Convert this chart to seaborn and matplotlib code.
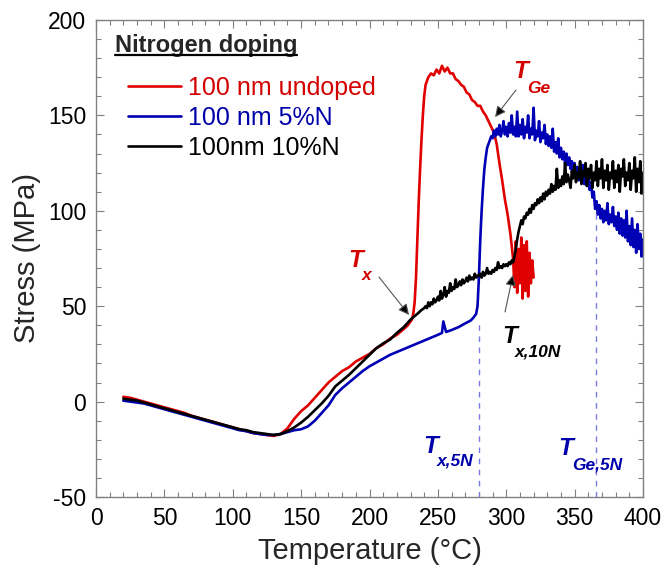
import matplotlib
matplotlib.use("Agg")
import matplotlib.pyplot as plt
import numpy as np
import pandas as pd
import seaborn as sns
from matplotlib.ticker import MultipleLocator
from matplotlib.lines import Line2D

# ---------------- data ----------------
red_T = [20,25,30,35,40,45,50,55,60,65,70,75,80,85,90,95,100,105,110,115,120,125,130,135,140,145,150,155,160,165,
         170,175,180,185,190,195,200,205,210,215,220,225,228,231,232,233,234,235,236,237,238,239,240,241,
         243,245,247,249,251,253,255,257,259,261,263,265,267,269,271,273,275,277,279,281,283,285,287,289,291,293,
         295,297,299,301,303,305,
         306,307,308,309,310,311,312,313,314,315,316,317,318,319,320]
red_S = [2.5,2,1,0,-1,-2,-3,-4,-5,-6,-7.5,-8.5,-9.5,-10.5,-11.5,-12.5,-13.5,-14.5,-15.5,-16.5,
         -17,-17.5,-18,-17,-14,-9,-5,-2,2,6,10,13,16,18,21,23,25,28,30,33,35,38,
         40,43,46,52,65,85,105,122,137,150,160,166,
         170,172,171,174,172,176,173,175,172,172,169,168,166,165,162,161,158,157,155,155,
         152,150,147,144,141,135,125,116,106,98,88,75,
         60,84,57,80,62,86,54,82,58,84,55,78,62,74,65]

black_T = [20,25,30,35,40,45,50,55,60,65,70,75,80,85,90,95,100,105,110,115,120,125,130,135,140,145,150,155,
           160,165,170,175,180,185,190,195,200,205,210,215,220,225,230,235,238] + list(range(240, 401))
black_S = [1.5,1,0.5,-0.5,-1.5,-2.5,-3.5,-4.5,-5.5,-6.5,-7.5,-8.5,-9.5,-10.5,-11.5,-12.5,-13.5,-14.5,-15,-16,
           -16.5,-17,-17.5,-17,-15.5,-13.5,-11,-8,-4.5,-1,3,8,11,14,17.5,21,24.5,28,30.5,32.5,36,39,43,46,48,
           49,50,49,52,50,52,51,54,52,53,
           55,53,58,54,56,60,55,58,57,62,
           58,60,59,64,60,61,63,61,64,62,
           63,65,63,66,64,65,64,67,65,66,
           66,67,65,68,66,67,70,67,68,67,
           69,68,70,69,73,70,71,70,72,71,
           72,71,73,72,74,73,76,80,85,89,
           92,95,93,97,96,99,98,101,99,103,
           101,104,103,106,104,107,105,109,106,110,
           108,111,109,114,110,113,111,122,112,116,
           113,118,114,125,115,119,116,112,121,117,
           124,115,120,117,126,114,121,118,125,113,
           122,117,124,112,120,116,126,113,122,117,
           127,112,121,116,124,111,120,117,126,112,
           121,115,124,110,122,118,127,113,120,116,
           125,111,121,117,128,110,122,115,126,109,
           120]

blue_T = [20,25,30,35,40,45,50,55,60,65,70,75,80,85,90,95,100,105,110,115,120,125,130,135,140,145,150,155,
          160,165,170,175,180,185,190,195,200,205,210,215,220,225,230,235,240,245,250,253,254,
          256,260,265,270,274,276,278,279,280,281,282,283,284,285,286,287] + list(range(288, 401))
blue_S = [0.5,0,-0.5,-1,-2,-3,-4,-5,-6,-7,-8,-9,-10,-11,-12,-13,-14,-15,-15.5,-16.5,
          -17,-17.5,-17.5,-17,-16,-15,-14.5,-13,-10,-6,-2,3.5,7,10,13,16,18.5,20.5,22.5,24.5,
          26,27.5,29,30.5,32,33.5,35,36,42,
          36.5,37.5,39,41,42.5,44,46,50,65,85,100,112,122,128,133,135,
          137,139,138,142,139,143,140,145,139,142,
          147,140,144,139,146,141,150,140,144,139,
          152,139,145,140,148,138,144,141,150,138,
          143,140,154,137,142,139,147,136,141,138,
          145,135,140,134,139,133,143,131,136,130,
          138,128,133,127,131,125,130,124,128,122,
          126,120,125,118,123,116,121,115,124,114,
          119,113,117,111,115,107,110,101,105,98,
          103,96,101,94,100,95,104,93,98,94,
          102,92,97,90,99,88,96,87,95,86,
          100,84,92,82,96,81,90,78,93,80,
          88,76,85]

series_names = ["100 nm undoped", "100 nm 5%N", "100nm 10%N"]
x_ticks = [0, 50, 100, 150, 200, 250, 300, 350, 400]
y_ticks = [-50, 0, 50, 100, 150, 200]

RED = "#e00000"
BLUE = "#0000b4"
BLACK = "#000000"
RED_TXT = "#d40000"
BLUE_TXT = "#0000aa"

# ---------------- figure ----------------
sns.set_style("ticks")
plt.rcParams["font.family"] = ["Liberation Sans", "DejaVu Sans"]
plt.rcParams["axes.unicode_minus"] = False

fig = plt.figure(figsize=(6.7, 5.66), dpi=100)
ax = fig.add_axes([0.1433, 0.1219, 0.8164, 0.8428])

df_red = pd.DataFrame({"T": red_T, "S": red_S})
df_blue = pd.DataFrame({"T": blue_T, "S": blue_S})
df_black = pd.DataFrame({"T": black_T, "S": black_S})

lw = 1.9
sns.lineplot(data=df_red, x="T", y="S", color=RED, lw=lw, sort=False, estimator=None, ax=ax, label=series_names[0])
sns.lineplot(data=df_blue, x="T", y="S", color=BLUE, lw=lw, sort=False, estimator=None, ax=ax, label=series_names[1])
sns.lineplot(data=df_black, x="T", y="S", color=BLACK, lw=lw, sort=False, estimator=None, ax=ax, label=series_names[2])

ax.set_xlim(0, 400)
ax.set_ylim(-50, 200)
ax.set_xticks(x_ticks)
ax.set_yticks(y_ticks)
ax.xaxis.set_minor_locator(MultipleLocator(10))
ax.yaxis.set_minor_locator(MultipleLocator(10))
ax.tick_params(which="both", direction="in", top=True, right=True, color="#808080", width=0.8,
               labelsize=16.5, labelcolor="black")
ax.tick_params(which="major", length=6, pad=7)
ax.tick_params(which="minor", length=3.5)
for sp in ax.spines.values():
    sp.set_color("#808080")
    sp.set_linewidth(1.0)

ax.set_xlabel("Temperature (°C)", fontsize=21, labelpad=5)
ax.set_ylabel("Stress (MPa)", fontsize=21, labelpad=5)

# vertical dashed markers
dash_kw = dict(color="#7b7be6", lw=1.0, ls=(0, (4, 4)))
ax.plot([280, 280], [-50, 43], **dash_kw)
ax.plot([365.5, 365.5], [-50, 100], **dash_kw)

# legend
handles, labels = ax.get_legend_handles_labels()
leg = ax.legend(handles, labels, loc="center left", bbox_to_anchor=(0.0585, 0.7945), frameon=False,
                fontsize=18, handlelength=2.1, handletextpad=0.3, labelspacing=0.24,
                borderpad=0, borderaxespad=0, labelcolor=[RED_TXT, BLUE_TXT, BLACK])

# legend title, underlined
title = ax.text(0.0347, 0.933, "Nitrogen doping", transform=ax.transAxes, fontsize=17,
                fontweight="bold", ha="left", va="baseline")

# annotations
def tlabel(x, y, xs, ys, sub, color):
    ax.text(x, y, "T", fontsize=17.5, fontweight="bold", fontstyle="italic", color=color,
            ha="left", va="baseline")
    ax.text(xs, ys, sub, fontsize=12.5, fontweight="bold", fontstyle="italic", color=color,
            ha="left", va="baseline")

tlabel(305, 169.6, 315, 161.7, "Ge", RED_TXT)
tlabel(184.3, 70.5, 194.5, 63.7, "x", RED_TXT)
tlabel(296.9, 30.7, 306.4, 23.4, "x,10N", BLACK)
tlabel(239.1, -26.9, 249.4, -33.3, "x,5N", BLUE_TXT)
tlabel(337.8, -28.0, 348, -35.8, "Ge,5N", BLUE_TXT)

arrow_kw = dict(arrowstyle="-|>", facecolor="black", edgecolor="#555555", lw=0.8,
                mutation_scale=16, shrinkA=0, shrinkB=0)
ax.annotate("", xy=(291.8, 149.1), xytext=(307.1, 163.3), arrowprops=arrow_kw)
ax.annotate("", xy=(228.9, 45.4), xytext=(206.9, 65.3), arrowprops=arrow_kw)
ax.annotate("", xy=(304.9, 66.4), xytext=(299.1, 47.0), arrowprops=arrow_kw)

fig.canvas.draw()
bb = title.get_window_extent()
x0, y0 = ax.transAxes.transform((0.0347, 0.933))
ul_y = y0 - 3
fig.add_artist(Line2D([bb.x0 / fig.bbox.width, bb.x1 / fig.bbox.width],
                      [ul_y / fig.bbox.height, ul_y / fig.bbox.height],
                      transform=fig.transFigure, color="black", lw=1.6))

fig.savefig("out.png", dpi=100)
